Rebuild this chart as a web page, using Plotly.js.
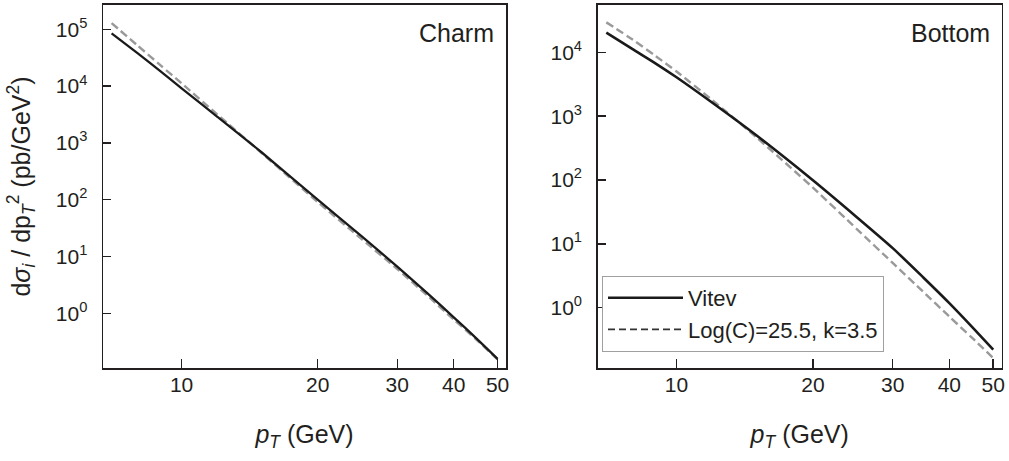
<!DOCTYPE html>
<html>
<head>
<meta charset="utf-8">
<script src="https://cdn.plot.ly/plotly-3.0.1.min.js"></script>
<style>html,body{margin:0;padding:0;background:#fff;}#chart{width:1009px;height:461px;}</style>
</head>
<body>
<div id="chart"></div>
<script>
// ---- data ----
const pT = [7, 8, 9, 10, 12, 15, 20, 25, 30, 35, 40, 45, 50];
const charmVitev = [85100, 37580, 17990, 9120, 2884, 692, 100, 22.9, 6.61, 2.24, 0.851, 0.355, 0.158];
const charmFit   = [128800, 51300, 22900, 11200, 3160, 676, 91.2, 20.4, 6.03, 2.04, 0.776, 0.339, 0.155];
const bottomVitev = [20400, 11220, 6680, 4070, 1620, 501, 98.9, 26.1, 8.55, 2.99, 1.175, 0.490, 0.219];
const bottomFit   = [29500, 15850, 8710, 5010, 1780, 468, 75.9, 17.0, 5.01, 1.78, 0.724, 0.331, 0.162];
const xTickVals = [10, 20, 30, 40, 50];
const xTickText = ['10', '20', '30', '40', '50'];
const charmYTickVals = [1, 10, 100, 1000, 10000, 100000];
const charmYTickText = ['10<sup>0</sup>', '10<sup>1</sup>', '10<sup>2</sup>', '10<sup>3</sup>', '10<sup>4</sup>', '10<sup>5</sup>'];
const bottomYTickVals = [1, 10, 100, 1000, 10000];
const bottomYTickText = ['10<sup>0</sup>', '10<sup>1</sup>', '10<sup>2</sup>', '10<sup>3</sup>', '10<sup>4</sup>'];
const seriesNames = ['Vitev', 'Log(C)=25.5, k=3.5'];
const panelLabels = ['Charm', 'Bottom'];

const INK = '#231f20';
const FONT = 'Liberation Sans, Arial, sans-serif';
const solidLine = {color: '#1a1a1a', width: 2.3, shape: 'spline', smoothing: 0.6};
const dashLine = {color: '#9a9a9a', width: 2.4, dash: '8px,4px', shape: 'spline', smoothing: 0.6};

const traces = [
  {x: pT, y: charmFit, xaxis: 'x', yaxis: 'y', mode: 'lines', line: dashLine, showlegend: false, hoverinfo: 'skip'},
  {x: pT, y: charmVitev, xaxis: 'x', yaxis: 'y', mode: 'lines', line: solidLine, showlegend: false, hoverinfo: 'skip'},
  {x: pT, y: bottomFit, xaxis: 'x2', yaxis: 'y2', mode: 'lines', line: dashLine, showlegend: false, hoverinfo: 'skip'},
  {x: pT, y: bottomVitev, xaxis: 'x2', yaxis: 'y2', mode: 'lines', name: seriesNames[0],
   line: Object.assign({}, solidLine, {width: 2.6}), showlegend: true, legendrank: 1, hoverinfo: 'skip'},
  // legend sample for the fit curve (dark dashed, as in the reference key)
  {x: [null], y: [null], xaxis: 'x2', yaxis: 'y2', mode: 'lines', name: seriesNames[1],
   line: {color: '#333333', width: 1.8, dash: '7px,4px'}, showlegend: true, legendrank: 2, hoverinfo: 'skip'}
];

const xRange = [Math.log10(6.7), Math.log10(52.2)];
const yRange1 = [-0.963, 5.428];
const yRange2 = [-0.947, 4.742];
const xDom1 = [103/1009, 506/1009];
const xDom2 = [597.7/1009, 1001.7/1009];
const yDom = [(461-368)/461, (461-5)/461];

function xAxis(domain, anchor) {
  return {
    type: 'log', range: xRange, domain: domain, anchor: anchor,
    tickmode: 'array', tickvals: xTickVals, ticktext: xTickText,
    ticks: 'inside', ticklen: 9, tickwidth: 1.5, tickcolor: INK,
    showline: true, linecolor: INK, linewidth: 2, mirror: true,
    showgrid: false, zeroline: false, automargin: false,
    tickfont: {family: FONT, size: 21, color: INK},
    ticklabelstandoff: -3,
    title: {text: '<i>p</i><sub><i>T</i></sub> (GeV)', font: {family: FONT, size: 25, color: INK}, standoff: 30}
  };
}
function yAxis(domain, anchor, range, vals, text, withTitle) {
  const a = {
    type: 'log', range: range, domain: domain, anchor: anchor,
    tickmode: 'array', tickvals: vals, ticktext: text,
    ticks: 'inside', ticklen: 8, tickwidth: 1.5, tickcolor: INK,
    showline: true, linecolor: INK, linewidth: 1.5, mirror: true,
    showgrid: false, zeroline: false, automargin: false,
    tickfont: {family: FONT, size: 21, color: INK},
    ticklabelstandoff: 10
  };
  if (withTitle) {
    a.title = {text: 'd<i>σ</i><sub><i>i</i></sub> / dp<sub><i>T</i></sub><sup>2</sup> (pb/GeV<sup>2</sup>)',
               font: {family: FONT, size: 25, color: INK}, standoff: 18};
  }
  return a;
}
function outerX(over, anchor) {
  return {type: 'log', range: xRange, overlaying: over, anchor: anchor, side: 'bottom',
    tickmode: 'array', tickvals: xTickVals, ticks: 'outside', ticklen: 4, tickwidth: 1.5, tickcolor: INK,
    showticklabels: false, showline: false, showgrid: false, zeroline: false, automargin: false};
}
function outerY(over, anchor, range, vals) {
  return {type: 'log', range: range, overlaying: over, anchor: anchor, side: 'left',
    tickmode: 'array', tickvals: vals, ticks: 'outside', ticklen: 4, tickwidth: 1.5, tickcolor: INK,
    showticklabels: false, showline: false, showgrid: false, zeroline: false, automargin: false};
}

const layout = {
  width: 1009, height: 461,
  margin: {l: 0, r: 0, t: 0, b: 0},
  paper_bgcolor: '#ffffff', plot_bgcolor: 'rgba(0,0,0,0)',
  font: {family: FONT, color: INK},
  showlegend: true,
  xaxis: xAxis(xDom1, 'y'),
  yaxis: yAxis(yDom, 'x', yRange1, charmYTickVals, charmYTickText, true),
  xaxis2: xAxis(xDom2, 'y2'),
  yaxis2: yAxis(yDom, 'x2', yRange2, bottomYTickVals, bottomYTickText, false),
  xaxis3: outerX('x', 'y3'),
  yaxis3: outerY('y', 'x3', yRange1, charmYTickVals),
  xaxis4: outerX('x2', 'y4'),
  yaxis4: outerY('y2', 'x4', yRange2, bottomYTickVals),
  legend: {
    x: 602/1009, y: (461-276)/461, xanchor: 'left', yanchor: 'top',
    bgcolor: '#ffffff', bordercolor: '#a0a0a0', borderwidth: 1,
    font: {family: FONT, size: 22, color: INK},
    itemwidth: 75, traceorder: 'normal', itemclick: false, itemdoubleclick: false
  },
  annotations: [
    {text: panelLabels[0], xref: 'x domain', yref: 'y domain', x: 0.975, y: 0.923,
     xanchor: 'right', yanchor: 'middle', showarrow: false, font: {family: FONT, size: 25, color: INK}},
    {text: panelLabels[1], xref: 'x2 domain', yref: 'y2 domain', x: 0.977, y: 0.923,
     xanchor: 'right', yanchor: 'middle', showarrow: false, font: {family: FONT, size: 25, color: INK}}
  ]
};

Plotly.newPlot('chart', traces, layout, {displayModeBar: false, staticPlot: true});
</script>
</body>
</html>
